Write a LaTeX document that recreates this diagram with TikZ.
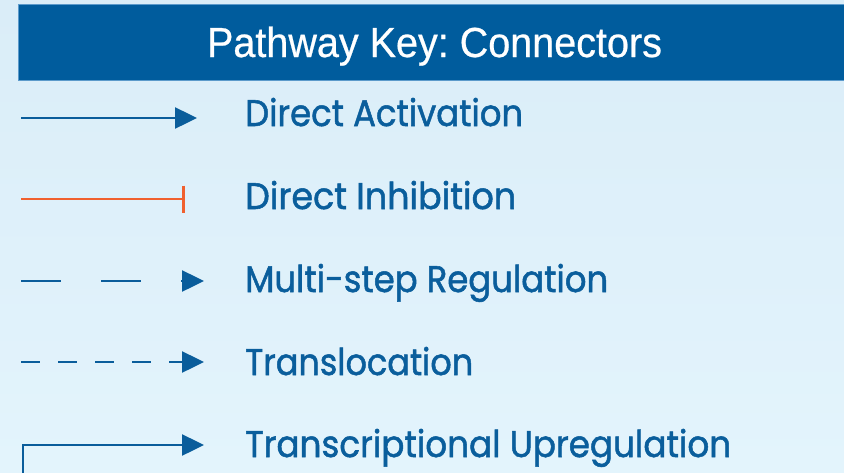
\documentclass[tikz,border=0pt]{standalone}
\usepackage{fontspec}
\usepackage{graphicx}
\setmainfont{Poppins}[FakeBold=1.4]
\newfontfamily\titlefont{Liberation Sans}[FakeBold=0.6]
\usetikzlibrary{arrows.meta}
\definecolor{barblue}{HTML}{005C9D}
\definecolor{baredge}{HTML}{5C9ACB}
\definecolor{txtblue}{HTML}{0A5E9C}
\definecolor{linkblue}{HTML}{0A5D9B}
\definecolor{inhib}{HTML}{F0602E}
\definecolor{bgtop}{HTML}{DAEDF8}
\definecolor{bgbot}{HTML}{E3F4FC}
\newlength\fitlen
\newcommand\fitto[2]{\settowidth\fitlen{#2}\pgfmathsetmacro\fitfac{#1/\fitlen}\scalebox{\fitfac}[1]{#2}}
\tikzset{
  keytext/.style={anchor=base west, inner sep=0pt, text=txtblue, font=\fontsize{37}{40}\selectfont},
  conn/.style={draw=linkblue, line width=2.5pt},
  tip/.style={-{Triangle[length=22pt,width=21pt]}},
}
\begin{document}
\begin{tikzpicture}[x=1pt,y=-1pt]
\useasboundingbox (0,0) rectangle (844,472);
\shade[top color=bgtop, bottom color=bgbot] (0,0) rectangle (844,472);
% header
\path[fill=barblue, draw=baredge, line width=1pt] (18,4) rectangle (850,80);
\node[anchor=base, inner sep=0pt, text=white, font=\titlefont\fontsize{42}{44}\selectfont] (title) at (434.5,57) {\fitto{455}{Pathway Key:\hspace{-4pt} Connectors}};
% labels
\node[keytext] (la) at (245,126) {\fitto{278}{Direct Activation}};
\node[keytext] (li) at (245,209) {\fitto{271}{Direct Inhibition}};
\node[keytext] (lm) at (245,292) {\fitto{363}{Multi-step Regulation}};
\node[keytext] (lt) at (245,375) {\fitto{228}{Translocation}};
\node[keytext] (lu) at (245,457) {\fitto{486}{Transcriptional Upregulation}};
% connector endpoints
\coordinate (a1) at (21,118);  \coordinate (a2) at (197,118);
\coordinate (i1) at (21,199);  \coordinate (i2) at (185,199);
\coordinate (m1) at (21,281);  \coordinate (m2) at (204,281);
\coordinate (t1) at (21,362);  \coordinate (t2) at (204,362);
\coordinate (u1) at (23,473);  \coordinate (u2) at (204,445);
% connectors
\draw[conn, tip] (a1) -- (a2);
\draw[draw=inhib, line width=2.5pt, -{Bar[width=27pt,line width=3pt]}] (i1) -- (i2);
\draw[conn, tip, dash pattern=on 40pt off 40pt] (m1) -- (m2);
\draw[conn, tip, dash pattern=on 19pt off 18pt] (t1) -- (t2);
\draw[conn, tip] (u1) |- (u2);
\end{tikzpicture}
\end{document}
